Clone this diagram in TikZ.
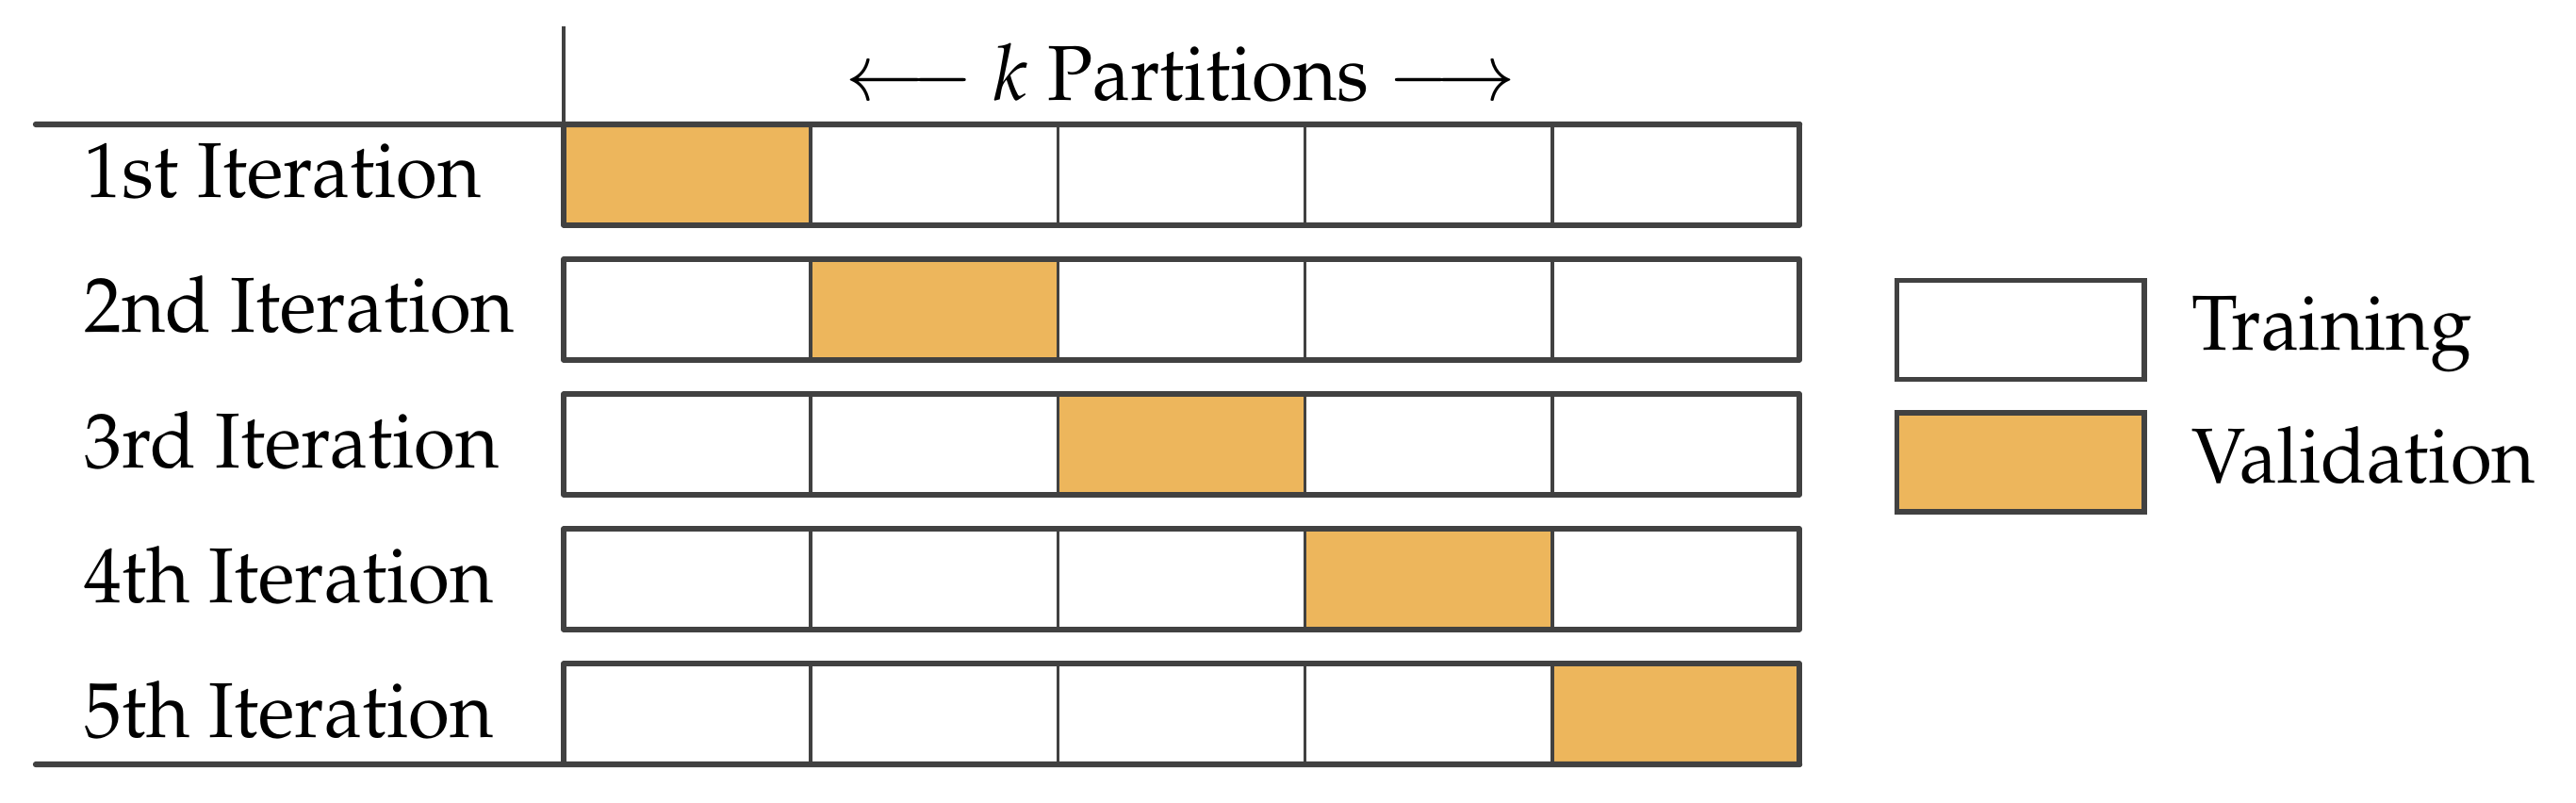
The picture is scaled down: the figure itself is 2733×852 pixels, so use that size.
\documentclass[tikz,border=0pt]{standalone}
\usepackage[T1]{fontenc}
\usepackage{mathpazo}
\usepackage{graphicx}
\definecolor{valc}{RGB}{237,182,92}
\definecolor{linec}{RGB}{65,65,65}
\newcommand{\cond}[1]{\scalebox{0.965}[1]{#1}}
\begin{document}
\begin{tikzpicture}[x=0.01cm,y=-0.01cm,
  cell/.style={draw=linec, line width=1pt, minimum width=2.622cm, minimum height=1.07cm, inner sep=0pt, outer sep=0pt, fill=white},
  val/.style={cell, fill=valc},
  frame/.style={draw=linec, line width=1.6pt, line join=round},
  rule/.style={draw=linec, line width=1.8pt, line cap=round},
  txt/.style={anchor=base west, inner sep=0pt, font=\fontsize{23.5}{28}\selectfont}]
\useasboundingbox (0,0) rectangle (2733,852);
\foreach \r/\lab in {1/1st,2/2nd,3/3rd,4/4th,5/5th}{
  \foreach \c in {1,...,5}{
    \ifnum\r=\c
      \node[val] (c\r\c) at ({598+262.2*(\c-0.5)},{132+143*(\r-1)+53.5}) {};
    \else
      \node[cell] (c\r\c) at ({598+262.2*(\c-0.5)},{132+143*(\r-1)+53.5}) {};
    \fi
  }
  \draw[frame] (c\r1.north west) rectangle (c\r5.south east);
  \node[txt] (l\r) at (89,{210+143*(\r-1)}) {\cond{\lab\ Iteration}};
}
\coordinate (tl) at (38,132);
\coordinate (bl) at (38,811);
\coordinate (vt) at (598,28);
\draw[rule] (tl) -- (c15.north east);
\draw[rule] (bl) -- (c55.south east);
\draw[draw=linec, line width=1.1pt] (vt) -- (c11.north west);
\node[anchor=base, inner sep=0pt, font=\fontsize{23.5}{28}\selectfont] (hdr) at (1253,107) {\cond{$\longleftarrow$ $k$ Partitions $\longrightarrow$}};
\node[cell, minimum height=1.05cm, line width=1.6pt] (lt) at (2143.5,350) {};
\node[val, minimum height=1.05cm, line width=1.6pt] (lv) at (2143.5,490.5) {};
\node[txt] (ltt) at (2325,372) {\cond{Training}};
\node[txt] (lvt) at (2325,513) {\cond{Validation}};
\end{tikzpicture}
\end{document}
